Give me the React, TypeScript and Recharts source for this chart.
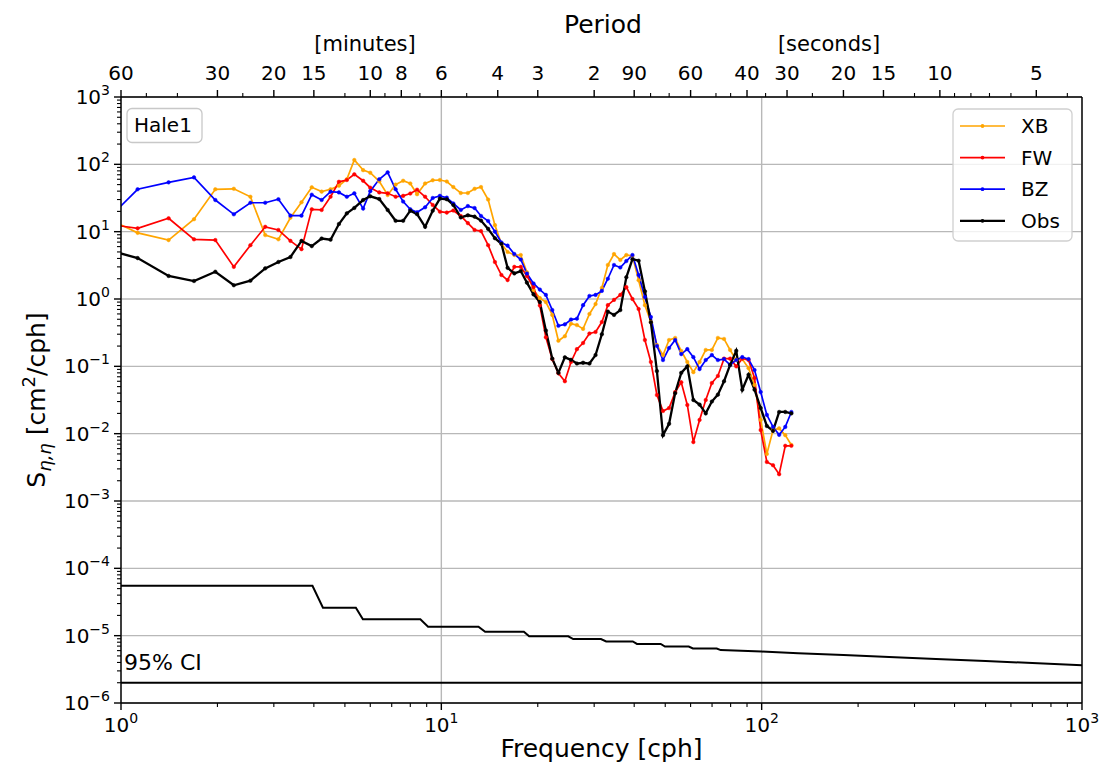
import React from 'react';
import { LineChart, Line, XAxis, YAxis, CartesianGrid } from 'recharts';

const FONT = '"DejaVu Sans", Verdana, sans-serif';

// ---------------- data ----------------
const freq = [0.845, 1.127, 1.408, 1.69, 1.97, 2.25, 2.535, 2.82, 3.1, 3.38, 3.66, 3.94, 4.23, 4.51, 4.79, 5.07, 5.35, 5.7, 6.0, 6.4, 6.8, 7.2, 7.6, 8.0, 8.4, 8.9, 9.4, 9.9, 10.4, 10.9, 11.5, 12.1, 12.7, 13.3, 14.0, 14.7, 15.4, 16.1, 16.9, 17.7, 18.5, 19.4, 20.3, 21.2, 22.2, 23.2, 24.3, 25.4, 26.5, 27.7, 29, 30.3, 31.7, 33.1, 34.6, 36.2, 37.8, 39.5, 41.3, 43.2, 45.1, 47.1, 49.2, 51.4, 53.7, 56.1, 58.6, 61.2, 64, 66.9, 69.9, 73, 76.3, 79.7, 83.3, 87, 91, 95, 99.3, 103.8, 108.5, 113.4, 118.5, 123.8];

const xbValues = [18.5, 9.6, 7.5, 15.3, 42.6, 43.3, 33, 8.9, 7.7, 16.1, 27.3, 45.6, 39.3, 42.6, 48.2, 60, 116, 82, 75, 56, 35, 50, 57, 52, 36, 52, 58, 58.5,
  55.6, 46, 37.5, 37.5, 43.3, 46, 30, 12.5, 6.6, 5.0, 4.5, 4.5, 2.5, 1.36, 1.03, 0.9, 0.58, 0.24, 0.28, 0.43, 0.41, 0.36, 0.6, 0.84, 1.46, 3.2, 4.65, 3.8, 4.5, 4.35, 1.9, 0.81, 0.455, 0.207, 0.147, 0.246, 0.264, 0.169, 0.116, 0.082, 0.116, 0.175, 0.175, 0.264, 0.255, 0.175, 0.124, 0.128, 0.094, 0.053, 0.016, 0.005, 0.0113, 0.012, 0.0095, 0.0068];

const fwValues = [13.6, 11.2, 15.8, 7.7, 7.5, 3.0, 6.3, 11.8, 10.6, 7.3, 5.5, 21.5, 21, 33, 55, 58.5, 71, 57, 45, 38.3, 37.1, 33, 34, 36.8, 42, 33, 24.9, 19.8,
  19.2, 20.6, 17.1, 13.4, 10.6, 10.2, 6.3, 3.54, 2.27, 1.91, 3.0, 3.0, 2.19, 1.5, 0.8, 0.27, 0.128, 0.079, 0.06, 0.116, 0.18, 0.222, 0.307, 0.324, 0.455, 0.81, 0.97, 1.15, 1.5, 1.0, 0.71, 0.246, 0.116, 0.0375, 0.0217, 0.024, 0.0415, 0.058, 0.0267, 0.0075, 0.016, 0.0316, 0.0565, 0.072, 0.13, 0.13, 0.1, 0.13, 0.124, 0.067, 0.0113, 0.0038, 0.0034, 0.0025, 0.0066, 0.0066];

const bzValues = [10.9, 42.6, 54, 64, 29.5, 18.1, 26.9, 26.9, 30.3, 17.3, 17.3, 35.4, 29.5, 39.3, 38.3, 33, 37.1, 22, 40, 60, 76, 42.6, 28, 21.5, 19.4, 23, 31.6, 34,
  32, 26.2, 21, 24, 22.4, 17.1, 14.4, 10, 6.9, 6.2, 4.65, 3.86, 2.39, 1.7, 1.38, 1.15, 0.685, 0.4, 0.42, 0.495, 0.51, 0.81, 1.11, 1.15, 1.32, 2.0, 3.2, 2.94, 3.66, 4.5, 2.27, 1.07, 0.54, 0.2, 0.124, 0.187, 0.246, 0.152, 0.18, 0.137, 0.091, 0.124, 0.147, 0.124, 0.128, 0.105, 0.124, 0.137, 0.128, 0.088, 0.0415, 0.019, 0.0126, 0.0096, 0.0126, 0.021];

const obsValues = [5.9, 4.05, 2.2, 1.85, 2.54, 1.6, 1.87, 2.85, 3.55, 4.2, 7.3, 6.1, 7.9, 7.6, 13, 18.7, 22.5, 29.5, 33.5, 30.5, 21, 14.5, 14.5, 20.5, 18.2, 11.8, 20.5, 31,
  30.3, 24.9, 16.3, 17.5, 16.7, 14.6, 11, 8, 6.6, 2.9, 2.4, 2.6, 1.75, 1.17, 0.9, 0.34, 0.13, 0.08, 0.136, 0.125, 0.11, 0.113, 0.11, 0.147, 0.3, 0.65, 0.58, 0.685, 2.1, 3.9, 3.7, 1.3, 0.45, 0.085, 0.0095, 0.014, 0.04, 0.08, 0.1, 0.0316, 0.027, 0.02, 0.03, 0.038, 0.06, 0.105, 0.17, 0.045, 0.075, 0.045, 0.024, 0.013, 0.011, 0.021, 0.021, 0.02];

const ciFreq = [1, 3.96, 4.27, 5.41, 5.69, 8.6, 9.09, 13.06, 13.7, 18.1, 18.8, 24.9, 25.8, 31.5, 32.7, 39.6, 40.8, 48.4, 49.9, 59.2, 61, 72.4, 74.5, 100, 130, 180, 250, 350, 500, 700, 1000];
const ciValues = [5.5e-5, 5.5e-5, 2.6e-5, 2.6e-5, 1.75e-5, 1.75e-5, 1.36e-5, 1.36e-5, 1.14e-5, 1.14e-5, 9.8e-6, 9.8e-6, 8.9e-6, 8.9e-6, 8.2e-6, 8.2e-6, 7.55e-6, 7.55e-6, 6.9e-6, 6.9e-6, 6.45e-6, 6.45e-6, 6.1e-6, 5.8e-6, 5.5e-6, 5.15e-6, 4.82e-6, 4.5e-6, 4.19e-6, 3.92e-6, 3.64e-6];
const ciFloorFreq = [1, 1000];
const ciFloorValue = 2e-6;

// axis ticks
const xMajorTicks = [1, 10, 100, 1000];
const yMajorExponents = [-6, -5, -4, -3, -2, -1, 0, 1, 2, 3];
const topMinutes = [60, 30, 20, 15, 10, 8, 6, 4, 3, 2];
const topSeconds = [90, 60, 40, 30, 20, 15, 10, 5];
const topMinorMinutes = [50, 40, 25, 12, 9, 7, 5];
const topMinorSeconds = [80, 70, 50, 45, 35, 25, 12, 9, 8, 7, 6, 4];

const series = [
  { key: 'xb', name: 'XB', color: '#ffa500', width: 1.7, values: xbValues },
  { key: 'fw', name: 'FW', color: '#ff0000', width: 1.7, values: fwValues },
  { key: 'bz', name: 'BZ', color: '#0000ff', width: 1.7, values: bzValues },
  { key: 'obs', name: 'Obs', color: '#000000', width: 2.3, values: obsValues },
];

// ---------------- derived tables ----------------
const rows = freq.map((f, i) => {
  const r: any = { f };
  series.forEach((s) => { r[s.key] = s.values[i]; });
  return r;
});
const ciRows = ciFreq.map((f, i) => ({ f, v: ciValues[i] }));
const floorRows = ciFloorFreq.map((f) => ({ f, v: ciFloorValue }));

const xMinorTicks: number[] = [];
[1, 10, 100].forEach((d) => { for (let m = 2; m <= 9; m++) xMinorTicks.push(m * d); });
const xTicks = [...xMajorTicks, ...xMinorTicks].sort((a, b) => a - b);

const yMajorTicks = yMajorExponents.map((e) => Math.pow(10, e));
const yMinorTicks: number[] = [];
yMajorExponents.slice(0, -1).forEach((e) => { for (let m = 2; m <= 9; m++) yMinorTicks.push(m * Math.pow(10, e)); });
const yTicks = [...yMajorTicks, ...yMinorTicks].sort((a, b) => a - b);

const topMajor = [
  ...topMinutes.map((p) => ({ f: 60 / p, label: String(p) })),
  ...topSeconds.map((p) => ({ f: 3600 / p, label: String(p) })),
];
const topMinor = [...topMinorMinutes.map((p) => 60 / p), ...topMinorSeconds.map((p) => 3600 / p)];
const topTicks = [...topMajor.map((t) => t.f), ...topMinor].sort((a, b) => a - b);

const isMajorLog = (v: number) => Math.abs(Math.log10(v) - Math.round(Math.log10(v))) < 1e-6;
const fmtExp = (v: number) => {
  const e = Math.round(Math.log10(v));
  return e < 0 ? '\u2212' + Math.abs(e) : String(e);
};

const TICK_FONT = 20;
const SUP_FONT = 14;

const BottomTick = (props: any) => {
  const { x, y, payload } = props;
  const v = payload.value;
  const major = isMajorLog(v);
  return (
    <g>
      <line x1={x} x2={x} y1={y} y2={y + (major ? 7 : 4)} stroke="#000" strokeWidth={major ? 1.4 : 1.1} />
      {major && (
        <text x={x} y={y + 29} textAnchor="middle" fontSize={TICK_FONT} fontFamily={FONT} fill="#000">
          10<tspan dy={-9} fontSize={SUP_FONT}>{fmtExp(v)}</tspan>
        </text>
      )}
    </g>
  );
};

const LeftTick = (props: any) => {
  const { x, y, payload } = props;
  const v = payload.value;
  const major = isMajorLog(v);
  return (
    <g>
      <line x1={x} x2={x - (major ? 7 : 4)} y1={y} y2={y} stroke="#000" strokeWidth={major ? 1.4 : 1.1} />
      {major && (
        <text x={x - 11} y={y + 7} textAnchor="end" fontSize={TICK_FONT} fontFamily={FONT} fill="#000">
          10<tspan dy={-9} fontSize={SUP_FONT}>{fmtExp(v)}</tspan>
        </text>
      )}
    </g>
  );
};

const TopTick = (props: any) => {
  const { x, y, payload } = props;
  const v = payload.value;
  const m = topMajor.find((t) => Math.abs(t.f - v) < 1e-6);
  return (
    <g>
      <line x1={x} x2={x} y1={y} y2={y - (m ? 7 : 4)} stroke="#000" strokeWidth={m ? 1.4 : 1.1} />
      {m && (
        <text x={x} y={y - 17} textAnchor="middle" fontSize={TICK_FONT} fontFamily={FONT} fill="#000">
          {m.label}
        </text>
      )}
    </g>
  );
};

const W = 1101;
const H = 773;

export default function App() {
  return (
    <div style={{ position: 'absolute', left: 0, top: 0, width: W, height: H, background: '#fff', fontFamily: FONT }}>
      <LineChart width={W} height={H} data={rows} margin={{ top: 0, right: 0, bottom: 0, left: 0 }}>
        <CartesianGrid
          xAxisId="b"
          yAxisId="l"
          horizontalValues={yMajorTicks}
          verticalValues={xMajorTicks}
          stroke="#b8b8b8"
          strokeWidth={1.4}
        />
        <XAxis
          xAxisId="b"
          dataKey="f"
          type="number"
          scale="log"
          domain={[1, 1000]}
          allowDataOverflow
          ticks={xTicks}
          interval={0}
          tickSize={0}
          tickMargin={0}
          tickLine={false}
          tick={<BottomTick />}
          height={70}
          axisLine={{ stroke: '#000', strokeWidth: 1.4 }}
        />
        <XAxis
          xAxisId="t"
          orientation="top"
          dataKey="f"
          type="number"
          scale="log"
          domain={[1, 1000]}
          allowDataOverflow
          ticks={topTicks}
          interval={0}
          tickSize={0}
          tickMargin={0}
          tickLine={false}
          tick={<TopTick />}
          height={97}
          axisLine={{ stroke: '#000', strokeWidth: 1.4 }}
        />
        <YAxis
          yAxisId="l"
          type="number"
          scale="log"
          domain={[1e-6, 1000]}
          allowDataOverflow
          ticks={yTicks}
          interval={0}
          tickSize={0}
          tickMargin={0}
          tickLine={false}
          tick={<LeftTick />}
          width={121}
          axisLine={{ stroke: '#000', strokeWidth: 1.4 }}
        />
        <YAxis
          yAxisId="r"
          orientation="right"
          type="number"
          scale="log"
          domain={[1e-6, 1000]}
          allowDataOverflow
          tick={false}
          tickLine={false}
          width={19}
          axisLine={{ stroke: '#000', strokeWidth: 1.4 }}
        />
        {series.map((s) => (
          <Line
            key={s.key}
            xAxisId="b"
            yAxisId="l"
            dataKey={s.key}
            type="linear"
            stroke={s.color}
            strokeWidth={s.width}
            dot={{ r: 1.8, fill: s.color, stroke: s.color, strokeWidth: 0.5 }}
            activeDot={false}
            isAnimationActive={false}
          />
        ))}
        <Line
          xAxisId="b"
          yAxisId="l"
          data={ciRows}
          dataKey="v"
          type="linear"
          stroke="#000"
          strokeWidth={2}
          dot={false}
          activeDot={false}
          isAnimationActive={false}
        />
        <Line
          xAxisId="b"
          yAxisId="l"
          data={floorRows}
          dataKey="v"
          type="linear"
          stroke="#000"
          strokeWidth={2}
          dot={false}
          activeDot={false}
          isAnimationActive={false}
        />
      </LineChart>

      <svg width={W} height={H} style={{ position: 'absolute', left: 0, top: 0, pointerEvents: 'none' }}>
        <text x={603} y={33} textAnchor="middle" fontSize={25} fontFamily={FONT} fill="#000">Period</text>
        <text x={365} y={51} textAnchor="middle" fontSize={21} fontFamily={FONT} fill="#000">[minutes]</text>
        <text x={829} y={51} textAnchor="middle" fontSize={21} fontFamily={FONT} fill="#000">[seconds]</text>
        <text x={601.5} y={757} textAnchor="middle" fontSize={25} fontFamily={FONT} fill="#000">Frequency [cph]</text>
        <text transform="translate(45,400) rotate(-90)" textAnchor="middle" fontSize={25} fontFamily={FONT} fill="#000">
          S<tspan fontSize={18} dy={6} fontStyle="italic">η,η</tspan>
          <tspan dy={-6}> [cm</tspan>
          <tspan fontSize={18} dy={-10}>2</tspan>
          <tspan dy={10}>/cph]</tspan>
        </text>
        <text x={124} y={670} fontSize={22} fontFamily={FONT} fill="#000">95% CI</text>

        {/* Hale1 box */}
        <rect x={127} y={108.5} width={75} height={34} rx={5} ry={5} fill="#fff" fillOpacity={0.8} stroke="#c8c8c8" strokeWidth={1.3} />
        <text x={134} y={132} fontSize={20} fontFamily={FONT} fill="#000">Hale1</text>

        {/* legend */}
        <rect x={953} y={109} width={119} height={132} rx={5} ry={5} fill="#fff" fillOpacity={0.8} stroke="#d0d0d0" strokeWidth={1.3} />
        {series.map((s, i) => {
          const cy = 126 + i * 31.6;
          return (
            <g key={s.key}>
              <line x1={960} x2={1005} y1={cy} y2={cy} stroke={s.color} strokeWidth={s.width} />
              <circle cx={982.5} cy={cy} r={1.9} fill={s.color} />
              <text x={1021} y={cy + 7} fontSize={20} fontFamily={FONT} fill="#000">{s.name}</text>
            </g>
          );
        })}
      </svg>
    </div>
  );
}
